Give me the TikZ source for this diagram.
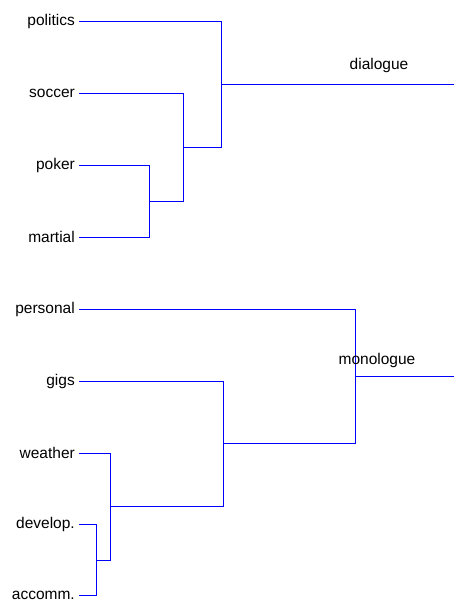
\documentclass[tikz,border=0pt]{standalone}
\usepackage{fontspec}
\setmainfont{Liberation Sans}
\usepackage{xcolor}

\tikzset{
  leaf/.style={anchor=east, inner xsep=4pt, inner ysep=0pt, font=\fontsize{15.5}{18}\selectfont},
  tag/.style={font=\fontsize{15.5}{18}\selectfont},
  link/.style={blue, line width=0.9pt}
}

\begin{document}
\begin{tikzpicture}[x=1pt, y=-1pt]
    \useasboundingbox (0,0) rectangle (454,603);

    % Leaves of the dialogue tree
    \node[leaf] (politics) at (79,21) {politics};
    \node[leaf] (soccer) at (79,93) {soccer};
    \node[leaf] (poker) at (79,165) {poker};
    \node[leaf] (martial) at (79,237) {martial};

    % Joins
    \coordinate (pm) at (149,201);
    \coordinate (spm) at (183,147);
    \coordinate (dtop) at (221,84);
    \coordinate (dend) at (454,84);

    \draw[link] (poker.east) -| (pm);
    \draw[link] (martial.east) -| (pm);
    \draw[link] (soccer.east) -| (spm);
    \draw[link] (pm) -| (spm);
    \draw[link] (politics.east) -| (dtop);
    \draw[link] (spm) -| (dtop);
    \draw[link] (dtop) -- (dend);
    \node[tag] (dialogue) at (379,65) {dialogue};

    % Leaves of the monologue tree
    \node[leaf] (personal) at (79,309) {personal};
    \node[leaf] (gigs) at (79,381) {gigs};
    \node[leaf] (weather) at (79,453) {weather};
    \node[leaf] (develop) at (79,524) {develop.};
    \node[leaf] (accomm) at (79,595) {accomm.};

    % Joins
    \coordinate (da) at (96,560);
    \coordinate (wda) at (110,506);
    \coordinate (gw) at (223,443);
    \coordinate (mtop) at (355,376);
    \coordinate (mend) at (454,376);

    \draw[link] (develop.east) -| (da);
    \draw[link] (accomm.east) -| (da);
    \draw[link] (weather.east) -| (wda);
    \draw[link] (da) -| (wda);
    \draw[link] (gigs.east) -| (gw);
    \draw[link] (wda) -| (gw);
    \draw[link] (personal.east) -| (mtop);
    \draw[link] (gw) -| (mtop);
    \draw[link] (mtop) -- (mend);
    \node[tag] (monologue) at (377,360) {monologue};
\end{tikzpicture}
\end{document}
